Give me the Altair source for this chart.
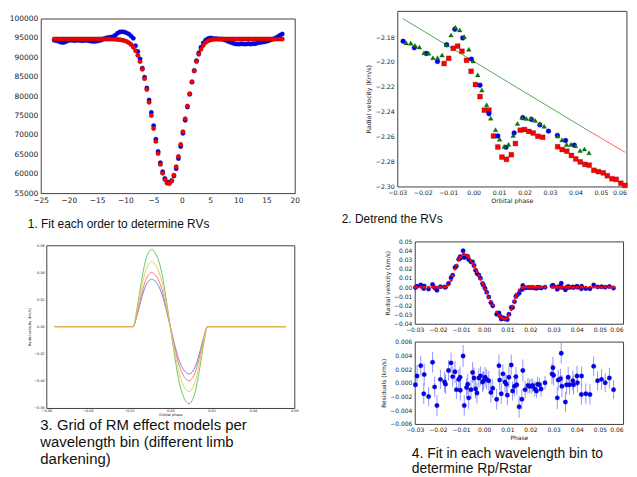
import altair as alt
import pandas as pd

AX_FONT = "DejaVu Sans"
CAP_FONT = "Liberation Sans"
FRAME = "#404040"
TXT = "#222222"
BLUE = "#0000ff"
RED = "#ff0000"

# ---------------- Panel 1: line profile, observed (blue) and fit (red) ----------------
p1_x = [-22.6, -22.2, -21.8, -21.4, -21.0, -20.6, -20.2, -19.8, -19.4, -19.0,
        -18.6, -18.2, -17.8, -17.4, -17.0, -16.6, -16.2, -15.8, -15.4, -15.0,
        -14.6, -14.2, -13.8, -13.4, -13.0, -12.6, -12.2, -11.8, -11.4, -11.0,
        -10.6, -10.2, -9.8, -9.4, -9.0, -8.6, -8.2, -7.8, -7.4, -7.0,
        -6.6, -6.2, -5.8, -5.4, -5.0, -4.6, -4.2, -3.8, -3.4, -3.0,
        -2.6, -2.2, -1.8, -1.4, -1.0, -0.6, -0.2, 0.2, 0.6, 1.0,
        1.4, 1.8, 2.2, 2.6, 3.0, 3.4, 3.8, 4.2, 4.6, 5.0,
        5.4, 5.8, 6.2, 6.6, 7.0, 7.4, 7.8, 8.2, 8.6, 9.0,
        9.4, 9.8, 10.2, 10.6, 11.0, 11.4, 11.8, 12.2, 12.6, 13.0,
        13.4, 13.8, 14.2, 14.6, 15.0, 15.4, 15.8, 16.2, 16.6, 17.0,
        17.4, 17.8]
p1_obs = [94400, 94300, 94100, 93900, 93800, 94000, 94300, 94400, 94400, 94300,
          94400, 94400, 94300, 94300, 94400, 94300, 94200, 94100, 94100, 94200,
          94300, 94500, 94800, 95000, 95100, 95200, 95300, 95700, 96200, 96500,
          96600, 96500, 96300, 96000, 95500, 94900, 93000, 91500, 89600, 87200,
          84900, 82100, 79000, 75800, 72400, 68900, 65700, 62800, 60500, 58800,
          57900, 57700, 58200, 59400, 61300, 63900, 67000, 70400, 73800, 77200,
          80500, 83600, 86600, 89100, 91100, 92600, 93700, 94400, 94800, 95000,
          94900, 94800, 94800, 94700, 94700, 94600, 94400, 94100, 93900, 93700,
          93500, 93400, 93400, 93500, 93400, 93400, 93500, 93400, 93500, 93500,
          93700, 93800, 93900, 94000, 94100, 94300, 94500, 94700, 95000, 95300,
          95700, 96000]
p1_fit = [94700, 94700, 94700, 94700, 94700, 94700, 94700, 94700, 94700, 94700,
          94700, 94700, 94700, 94700, 94700, 94700, 94700, 94700, 94700, 94700,
          94700, 94700, 94700, 94700, 94700, 94690, 94680, 94650, 94610, 94550,
          94450, 94300, 94100, 93750, 93300, 92600, 91700, 90500, 88900, 86900,
          84500, 81700, 78400, 75000, 71650, 68330, 65200, 62400, 60120, 58480,
          57560, 57460, 58180, 59640, 61800, 64450, 67540, 70830, 74150, 77430,
          80600, 83700, 86500, 88900, 90800, 92100, 93100, 93800, 94200, 94450,
          94600, 94650, 94680, 94700, 94700, 94700, 94700, 94700, 94700, 94700,
          94700, 94700, 94700, 94700, 94700, 94700, 94700, 94700, 94700, 94700,
          94700, 94700, 94700, 94700, 94700, 94700, 94700, 94700, 94700, 94700,
          94700, 94700]
p1_xticks = [-25, -20, -15, -10, -5, 0, 5, 10, 15, 20]
p1_yticks = [55000, 60000, 65000, 70000, 75000, 80000, 85000, 90000, 95000, 100000]

# ---------------- Panel 2: RVs vs orbital phase with linear trend ----------------
p2_circ_x = [-0.0277, -0.0233, -0.0186, -0.0142, -0.0106, -0.0074, -0.0043, -0.0009, 0.0025, 0.0060,
             0.0095, 0.0127, 0.0159, 0.0193, 0.0227, 0.0260, 0.0294, 0.0329, 0.0361, 0.0395]
p2_circ_y = [-2.1834, -2.1886, -2.1932, -2.1997, -2.1862, -2.1738, -2.1808, -2.1977, -2.2187, -2.2416,
             -2.2595, -2.2686, -2.2571, -2.2447, -2.2462, -2.2506, -2.2556, -2.2590, -2.2631, -2.2668]
p2_tri_x = [-0.0265, -0.0247, -0.0230, -0.0213, -0.0195, -0.0177, -0.0160, -0.0142, -0.0124, -0.0107,
            -0.0089, -0.0072, -0.0055, -0.0037, -0.0019, -0.0002, 0.0016, 0.0032, 0.0051, 0.0067,
            0.0086, 0.0102, 0.0120, 0.0137, 0.0155, 0.0172, 0.0190, 0.0207, 0.0225, 0.0242,
            0.0260, 0.0277, 0.0330, 0.0347, 0.0365, 0.0382, 0.0400, 0.0418, 0.0435, 0.0453]
p2_tri_y = [-2.1847, -2.1849, -2.1868, -2.1880, -2.1927, -2.1930, -2.1966, -2.1966, -2.1945, -2.1862,
            -2.1784, -2.1722, -2.1743, -2.1797, -2.1899, -2.1992, -2.2104, -2.2226, -2.2343, -2.2452,
            -2.2545, -2.2621, -2.2678, -2.2662, -2.2590, -2.2494, -2.2447, -2.2455, -2.2452, -2.2470,
            -2.2496, -2.2517, -2.2595, -2.2626, -2.2662, -2.2662, -2.2673, -2.2712, -2.2699, -2.2730]
p2_sq_x = [-0.0116, -0.0098, -0.0080, -0.0063, -0.0046, -0.0028, -0.0010, 0.0007, 0.0025, 0.0042,
           0.0060, 0.0078, 0.0095, 0.0111, 0.0129, 0.0148, 0.0164, 0.0183, 0.0200, 0.0217,
           0.0234, 0.0252, 0.0271, 0.0330, 0.0348, 0.0366, 0.0384, 0.0401, 0.0419, 0.0437,
           0.0454, 0.0472, 0.0490, 0.0509, 0.0525, 0.0543, 0.0560, 0.0578, 0.0594]
p2_sq_y = [-2.2013, -2.1971, -2.1891, -2.1873, -2.1914, -2.1987, -2.2075, -2.2182, -2.2278, -2.2387,
           -2.2387, -2.2595, -2.2683, -2.2764, -2.2782, -2.2745, -2.2655, -2.2548, -2.2543, -2.2558,
           -2.2571, -2.2597, -2.2605, -2.2681, -2.2704, -2.2717, -2.2751, -2.2779, -2.2803, -2.2823,
           -2.2829, -2.2870, -2.2881, -2.2891, -2.2914, -2.2938, -2.2943, -2.2974, -2.2992]
# trend lines: visible segments of the three overlapping fits (blue start, green middle, red end)
p2_trend_blue_x = [-0.0278, -0.0266]
p2_trend_blue_y = [-2.1652, -2.1667]
p2_trend_green_x = [-0.0266, 0.0454]
p2_trend_green_y = [-2.1667, -2.2556]
p2_trend_red_x = [0.0454, 0.0594]
p2_trend_red_y = [-2.2556, -2.2725]
p2_xticks = [-0.03, -0.02, -0.01, 0.0, 0.01, 0.02, 0.03, 0.04, 0.05, 0.06]
p2_yticks = [-2.30, -2.28, -2.26, -2.24, -2.22, -2.20, -2.18]

# ---------------- Panel 3: grid of RM models ----------------
p3_phase = [-0.056, -0.018, -0.016, -0.014, -0.012, -0.010, -0.009, -0.008, -0.006, -0.004, -0.002,
            0.0, 0.002, 0.004, 0.006, 0.008, 0.009, 0.010, 0.012, 0.014, 0.016, 0.018, 0.056]
p3_green = [0, 0, 0.0143, 0.0331, 0.0485, 0.0559, 0.0570, 0.0559, 0.0502, 0.0388, 0.0205,
            0, -0.0205, -0.0388, -0.0502, -0.0559, -0.0570, -0.0559, -0.0485, -0.0331, -0.0143, 0, 0]
p3_yellow = [0, 0, 0.0120, 0.0278, 0.0408, 0.0470, 0.0480, 0.0470, 0.0422, 0.0326, 0.0173,
             0, -0.0173, -0.0326, -0.0422, -0.0470, -0.0480, -0.0470, -0.0408, -0.0278, -0.0120, 0, 0]
p3_red = [0, 0, 0.0100, 0.0232, 0.0340, 0.0392, 0.0400, 0.0392, 0.0352, 0.0272, 0.0144,
          0, -0.0144, -0.0272, -0.0352, -0.0392, -0.0400, -0.0392, -0.0340, -0.0232, -0.0100, 0, 0]
p3_blue = [0, 0, 0.0088, 0.0203, 0.0298, 0.0343, 0.0350, 0.0343, 0.0308, 0.0238, 0.0126,
           0, -0.0126, -0.0238, -0.0308, -0.0343, -0.0350, -0.0343, -0.0298, -0.0203, -0.0088, 0, 0]
p3_ticks = [-0.06, -0.04, -0.02, 0.0, 0.02, 0.04, 0.06]

# ---------------- Panel 4: fit and residuals ----------------
p4_phase = [-0.0297, -0.0290, -0.0274, -0.0261, -0.0259, -0.0240, -0.0223, -0.0214, -0.0204, -0.0189,
            -0.0171, -0.0167, -0.0154, -0.0143, -0.0136, -0.0126, -0.0120, -0.0110, -0.0104, -0.0103,
            -0.0091, -0.0086, -0.0076, -0.0071, -0.0067, -0.0057, -0.0050, -0.0044, -0.0037, -0.0031,
            -0.0023, -0.0016, -0.0007, -0.0003, 0.0004, 0.0011, 0.0020, 0.0029, 0.0037, 0.0054,
            0.0064, 0.0067, 0.0074, 0.0081, 0.0090, 0.0096, 0.0100, 0.0107, 0.0117, 0.0123,
            0.0131, 0.0137, 0.0141, 0.0151, 0.0163, 0.0167, 0.0177, 0.0189, 0.0196, 0.0203,
            0.0210, 0.0219, 0.0226, 0.0231, 0.0239, 0.0246, 0.0263, 0.0293, 0.0297, 0.0300,
            0.0316, 0.0320, 0.0330, 0.0333, 0.0336, 0.0351, 0.0356, 0.0363, 0.0369, 0.0383,
            0.0386, 0.0401, 0.0403, 0.0420, 0.0421, 0.0439, 0.0457, 0.0473, 0.0490, 0.0507,
            0.0523, 0.0541, 0.0559]
p4_model = [0, 0, 0, 0, 0, 0, 0, 0, 0, 0,
            0, 0.0002, 0.0023, 0.0074, 0.0122, 0.0198, 0.0240, 0.0300, 0.0324, 0.0328,
            0.0358, 0.0358, 0.0347, 0.0337, 0.0325, 0.0288, 0.0260, 0.0230, 0.0195, 0.0165,
            0.0125, 0.0088, 0.0039, 0.0017, -0.0022, -0.0061, -0.0110, -0.0155, -0.0195, -0.0271,
            -0.0307, -0.0316, -0.0333, -0.0346, -0.0350, -0.0341, -0.0335, -0.0304, -0.0248, -0.0209,
            -0.0153, -0.0111, -0.0085, -0.0032, -0.0003, 0, 0, 0, 0, 0,
            0, 0, 0, 0, 0, 0, 0, 0, 0, 0,
            0, 0, 0, 0, 0, 0, 0, 0, 0, 0,
            0, 0, 0, 0, 0, 0, 0, 0, 0, 0,
            0, 0, 0]
p4_obs = [-0.0003, 0.0010, 0.0025, -0.0016, 0.0012, -0.0020, 0.0030, -0.0006, -0.0033, 0.0005,
          0.0001, 0.0000, 0.0041, 0.0103, 0.0131, 0.0214, 0.0230, 0.0305, 0.0332, 0.0317,
          0.0397, 0.0325, 0.0340, 0.0335, 0.0303, 0.0278, 0.0275, 0.0237, 0.0186, 0.0150,
          0.0132, 0.0098, 0.0040, 0.0020, -0.0014, -0.0056, -0.0107, -0.0169, -0.0203, -0.0295,
          -0.0282, -0.0312, -0.0349, -0.0333, -0.0349, -0.0343, -0.0353, -0.0296, -0.0222, -0.0221,
          -0.0158, -0.0102, -0.0088, -0.0067, -0.0027, 0.0018, -0.0010, -0.0004, -0.0005, -0.0005,
          -0.0004, -0.0009, -0.0012, -0.0002, -0.0003, -0.0009, 0.0000, 0.0013, 0.0022, 0.0011,
          -0.0022, 0.0004, 0.0006, 0.0043, -0.0005, -0.0028, -0.0003, 0.0008, -0.0003, 0.0003,
          -0.0003, 0.0010, 0.0000, -0.0017, 0.0010, -0.0016, -0.0017, 0.0024, 0.0003, 0.0005,
          0.0000, 0.0007, -0.0010]
p4_res = [-0.0003, 0.0010, 0.0025, -0.0016, 0.0012, -0.0020, 0.0030, -0.0006, -0.0033, 0.0005,
          0.0001, -0.0002, 0.0018, 0.0029, 0.0009, 0.0016, -0.0010, 0.0005, 0.0008, -0.0011,
          0.0039, -0.0033, -0.0007, -0.0002, -0.0022, -0.0010, 0.0015, 0.0007, -0.0009, -0.0015,
          0.0007, 0.0010, 0.0001, 0.0003, 0.0008, 0.0005, 0.0003, -0.0014, -0.0008, -0.0024,
          0.0025, 0.0004, -0.0016, 0.0013, 0.0001, -0.0002, -0.0018, 0.0008, 0.0026, -0.0012,
          -0.0005, 0.0009, -0.0003, -0.0035, -0.0024, 0.0018, -0.0010, -0.0004, -0.0005, -0.0005,
          -0.0004, -0.0009, -0.0012, -0.0002, -0.0003, -0.0009, 0.0000, 0.0013, 0.0022, 0.0011,
          -0.0022, 0.0004, 0.0006, 0.0043, -0.0005, -0.0028, -0.0003, 0.0008, -0.0003, 0.0003,
          -0.0003, 0.0010, 0.0000, -0.0017, 0.0010, -0.0016, -0.0017, 0.0024, 0.0003, 0.0005,
          0.0000, 0.0007, -0.0010]
p4_err = [0.0012, 0.0016, 0.0014, 0.0015, 0.0016, 0.0014, 0.0015, 0.0015, 0.0015, 0.0014,
          0.0015, 0.0014, 0.0015, 0.0015, 0.0015, 0.0016, 0.0014, 0.0015, 0.0016, 0.0015,
          0.0016, 0.0015, 0.0014, 0.0015, 0.0016, 0.0014, 0.0015, 0.0015, 0.0014, 0.0015,
          0.0014, 0.0014, 0.0015, 0.0014, 0.0015, 0.0015, 0.0014, 0.0015, 0.0014, 0.0015,
          0.0016, 0.0015, 0.0015, 0.0014, 0.0015, 0.0014, 0.0015, 0.0015, 0.0015, 0.0014,
          0.0015, 0.0014, 0.0015, 0.0016, 0.0015, 0.0016, 0.0013, 0.0011, 0.0010, 0.0011,
          0.0010, 0.0011, 0.0010, 0.0011, 0.0010, 0.0011, 0.0010, 0.0015, 0.0016, 0.0015,
          0.0016, 0.0015, 0.0014, 0.0015, 0.0016, 0.0015, 0.0014, 0.0015, 0.0014, 0.0015,
          0.0014, 0.0015, 0.0014, 0.0015, 0.0014, 0.0015, 0.0015, 0.0014, 0.0014, 0.0015,
          0.0014, 0.0015, 0.0014]
p4_xticks = [-0.03, -0.02, -0.01, 0.0, 0.01, 0.02, 0.03, 0.04, 0.05, 0.06]
p4a_yticks = [-0.04, -0.03, -0.02, -0.01, 0.0, 0.01, 0.02, 0.03, 0.04, 0.05]
p4b_yticks = [-0.006, -0.004, -0.002, 0.0, 0.002, 0.004, 0.006]

cap1 = "1. Fit each order to determine RVs"
cap2 = "2. Detrend the RVs"
cap3 = ["3. Grid of RM effect models per", "wavelength bin (different limb", "darkening)"]
cap4 = ["4. Fit in each wavelength bin to", "determine Rp/Rstar"]


# ---------------- helpers ----------------
def axis(values, fmt, size, **kw):
    base = dict(values=values, format=fmt, labelFont=AX_FONT, labelFontSize=size,
                labelColor=TXT, ticks=False, domain=False, grid=False,
                labelPadding=3, labelOverlap=False, labelFlush=False,
                titleFont=AX_FONT, titleFontSize=size, titleFontWeight="normal",
                titleColor=TXT, titlePadding=3)
    base.update(kw)
    return alt.Axis(**base)


# last x label right-aligned so it stays inside the page (it is cut off in the original)
LAST_RIGHT = {"condition": {"test": "datum.value > 0.055", "value": "right"}, "value": "center"}


def frame():
    return alt.ViewBackground(stroke=FRAME, strokeWidth=1, fill="white")


def caption(lines, dx, offset, size, lh):
    return alt.TitleParams(text=lines, orient="bottom", anchor="start", frame="group",
                           baseline="top", dx=dx, offset=offset, font=CAP_FONT,
                           fontSize=size, fontWeight="normal", color="#111111",
                           lineHeight=lh)


spacer_df = pd.DataFrame({"s": [0]})


def spacer():
    return alt.Chart(spacer_df).mark_rule(strokeWidth=0, opacity=0).encode(
        x=alt.value(0), x2=alt.value(0), y=alt.value(0)
    ).properties(width=1, height=1,
                 view=alt.ViewBackground(strokeOpacity=0, fillOpacity=0))


# ---------------- Panel 1 ----------------
df1 = pd.DataFrame({"x": p1_x, "obs": p1_obs, "fit": p1_fit})
x1 = alt.X("x:Q", title=None, scale=alt.Scale(domain=[-25, 20], nice=False, zero=False),
           axis=axis(p1_xticks, "d", 7.5))
s1y = alt.Scale(domain=[55000, 100000], nice=False, zero=False)
ax1y = axis(p1_yticks, "d", 7.5)
obs1 = alt.Chart(df1).mark_circle(size=20, fill=BLUE, stroke="#101050", strokeWidth=0.3, opacity=1).encode(
    x=x1, y=alt.Y("obs:Q", title=None, scale=s1y, axis=ax1y))
fit1 = alt.Chart(df1).mark_circle(size=20, fill=RED, stroke="#501010", strokeWidth=0.3, opacity=1).encode(
    x=x1, y=alt.Y("fit:Q", title=None, scale=s1y, axis=ax1y))
p1 = alt.layer(obs1, fit1).properties(width=256, height=176, view=frame(),
                                      title=caption(cap1, -13, 16, 12, 14))

# ---------------- Panel 2 ----------------
s2x = alt.Scale(domain=[-0.03, 0.06], nice=False, zero=False)
s2y = alt.Scale(domain=[-2.30, -2.159], nice=False, zero=False)
ax2x = axis(p2_xticks, ".2f", 6.3, title="Orbital phase", titlePadding=2, labelAlign=LAST_RIGHT)
ax2y = axis(p2_yticks, ".2f", 6.3, title="Radial velocity (Km/s)", titlePadding=4)


def enc2(xf, yf):
    return dict(x=alt.X(f"{xf}:Q", scale=s2x, axis=ax2x, title="Orbital phase"),
                y=alt.Y(f"{yf}:Q", scale=s2y, axis=ax2y, title="Radial velocity (Km/s)"))


l_red = alt.Chart(pd.DataFrame({"a": p2_trend_red_x, "b": p2_trend_red_y})).mark_line(
    color="#ff5050", strokeWidth=0.9).encode(**enc2("a", "b"))
l_blue = alt.Chart(pd.DataFrame({"a": p2_trend_blue_x, "b": p2_trend_blue_y})).mark_line(
    color="#5a70ff", strokeWidth=0.9).encode(**enc2("a", "b"))
l_green = alt.Chart(pd.DataFrame({"a": p2_trend_green_x, "b": p2_trend_green_y})).mark_line(
    color="#3f9f3f", strokeWidth=0.9).encode(**enc2("a", "b"))
sq2 = alt.Chart(pd.DataFrame({"a": p2_sq_x, "b": p2_sq_y})).mark_square(
    size=24, fill=RED, stroke="#601010", strokeWidth=0.3, opacity=1).encode(**enc2("a", "b"))
ci2 = alt.Chart(pd.DataFrame({"a": p2_circ_x, "b": p2_circ_y})).mark_circle(
    size=24, fill=BLUE, stroke="#101060", strokeWidth=0.3, opacity=1).encode(**enc2("a", "b"))
tr2 = alt.Chart(pd.DataFrame({"a": p2_tri_x, "b": p2_tri_y})).mark_point(
    shape="triangle-up", size=22, filled=True, fill="#007f00", stroke="#0a3a0a", strokeWidth=0.3,
    opacity=1).encode(**enc2("a", "b"))
p2 = alt.layer(l_red, l_blue, l_green, sq2, ci2, tr2).properties(
    width=231, height=177, view=frame(), title=caption(cap2, -56, 10, 12, 14))

# ---------------- Panel 3 ----------------
s3x = alt.Scale(domain=[-0.06, 0.06], nice=False, zero=False)
s3y = alt.Scale(domain=[-0.06, 0.06], nice=False, zero=False)
ax3x = axis(p3_ticks, ".2f", 3.5, title="Orbital phase", labelPadding=1, titlePadding=0)
ax3y = axis(p3_ticks, ".2f", 3.5, title="Radial velocity (Km/s)", labelPadding=2, titlePadding=2)
df3 = pd.DataFrame({"ph": p3_phase, "g": p3_green, "yl": p3_yellow, "r": p3_red, "b": p3_blue})


def curve3(field, color):
    return alt.Chart(df3).mark_line(color=color, strokeWidth=0.9, interpolate="monotone").encode(
        x=alt.X("ph:Q", scale=s3x, axis=ax3x, title="Orbital phase"),
        y=alt.Y(f"{field}:Q", scale=s3y, axis=ax3y, title="Radial velocity (Km/s)"))


p3 = alt.layer(curve3("g", "#5cbf5c"), curve3("b", "#7070ee"), curve3("r", "#ee7070"),
               curve3("yl", "#e8c84a")).properties(
    width=250, height=164, view=frame(), title=caption(cap3, -6, 2.5, 15, 17))

# ---------------- Panel 4 ----------------
df4 = pd.DataFrame({"ph": p4_phase, "obs": p4_obs, "model": p4_model, "res": p4_res, "err": p4_err})
s4x = alt.Scale(domain=[-0.03, 0.06], nice=False, zero=False)
s4ay = alt.Scale(domain=[-0.04, 0.05], nice=False, zero=False)
s4by = alt.Scale(domain=[-0.006, 0.006], nice=False, zero=False)
ax4ax = axis(p4_xticks, ".2f", 6, labelAlign=LAST_RIGHT)
ax4ay = axis(p4a_yticks, ".2f", 6, title="Radial velocity (km/s)", titlePadding=3)
ax4bx = axis(p4_xticks, ".2f", 6, title="Phase", titlePadding=2, labelAlign=LAST_RIGHT)
ax4by = axis(p4b_yticks, ".3f", 6, title="Residuals (km/s)", titlePadding=3)

x4a = alt.X("ph:Q", scale=s4x, axis=ax4ax, title=None)
obs4 = alt.Chart(df4).mark_circle(size=20, fill=BLUE, stroke="#101060", strokeWidth=0.3, opacity=1).encode(
    x=x4a, y=alt.Y("obs:Q", scale=s4ay, axis=ax4ay, title="Radial velocity (km/s)"))
mod4 = alt.Chart(df4).mark_circle(size=9, fill=RED, opacity=1).encode(
    x=x4a, y=alt.Y("model:Q", scale=s4ay, axis=ax4ay, title="Radial velocity (km/s)"))
p4a = alt.layer(obs4, mod4).properties(width=210, height=83, view=frame())

x4b = alt.X("ph:Q", scale=s4x, axis=ax4bx, title="Phase")
bars4 = alt.Chart(df4).transform_calculate(
    lo="datum.res - datum.err", hi="datum.res + datum.err"
).mark_rule(color="#7a7aff", strokeWidth=1, opacity=0.8).encode(
    x=x4b, y=alt.Y("lo:Q", scale=s4by, axis=ax4by, title="Residuals (km/s)"), y2="hi:Q")
res4 = alt.Chart(df4).mark_circle(size=20, fill=BLUE, stroke="#101060", strokeWidth=0.3, opacity=1).encode(
    x=x4b, y=alt.Y("res:Q", scale=s4by, axis=ax4by, title="Residuals (km/s)"))
p4b = alt.layer(bars4, res4).properties(width=210, height=83, view=frame(),
                                        title=caption(cap4, -3, 6, 14, 15.5))

# ---------------- layout ----------------
left_inner = alt.vconcat(
    p1,
    alt.hconcat(spacer(), p3, spacing=4.6, bounds="flush"),
    spacing=52.6, bounds="flush")
left_col = alt.vconcat(spacer(), left_inner, spacing=6.7, bounds="flush")

p4_group = alt.vconcat(p4a, p4b, spacing=18, bounds="flush")
right_col = alt.vconcat(
    p2,
    alt.hconcat(spacer(), p4_group, spacing=16.6, bounds="flush"),
    spacing=55.4, bounds="flush")

chart = alt.hconcat(left_col, right_col, spacing=40.4).properties(
    padding=0
).configure(background="white").configure_view(strokeWidth=1)

chart.save("out.html", embed_options={"renderer": "svg", "actions": False})
